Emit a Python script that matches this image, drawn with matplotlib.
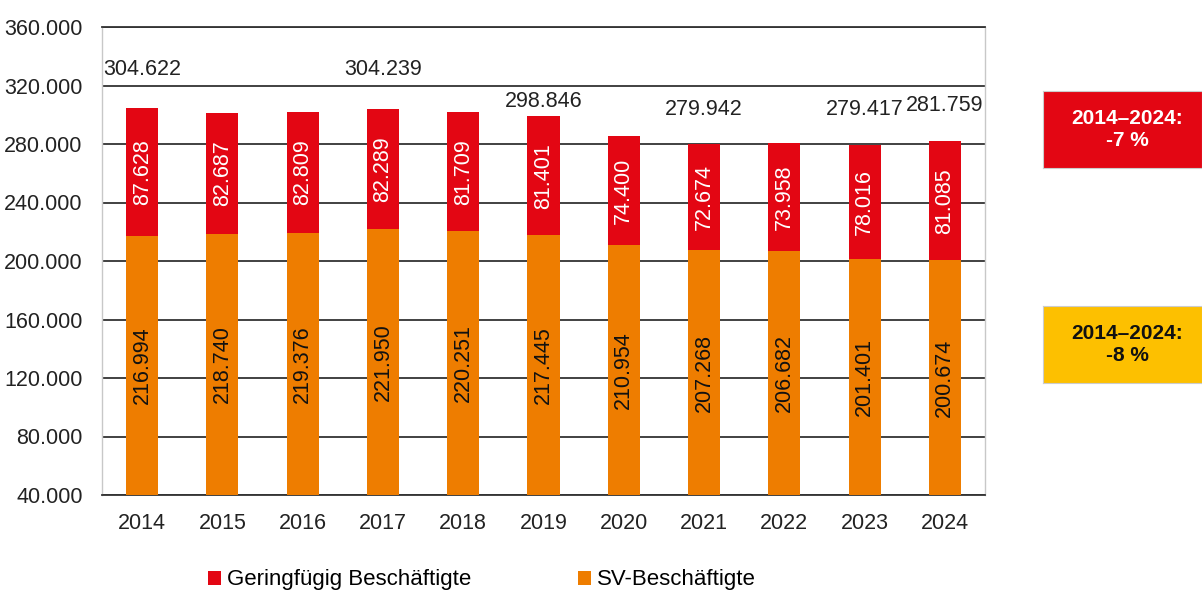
import matplotlib
matplotlib.use("Agg")
import matplotlib.pyplot as plt
from matplotlib.patches import Patch

years = ["2014", "2015", "2016", "2017", "2018", "2019", "2020", "2021", "2022", "2023", "2024"]
sv_beschaeftigte = [216994, 218740, 219376, 221950, 220251, 217445, 210954, 207268, 206682, 201401, 200674]
geringfuegig = [87628, 82687, 82809, 82289, 81709, 81401, 74400, 72674, 73958, 78016, 81085]
total_label_years = ["2014", "2017", "2019", "2021", "2023", "2024"]
y_ticks = [40000, 80000, 120000, 160000, 200000, 240000, 280000, 320000, 360000]
box_texts = ["2014\u20132024:\n-7 %", "2014\u20132024:\n-8 %"]

# layout-only: heights at which the total labels are printed
total_label_pos = {"2014": 330600, "2017": 330600, "2019": 309400,
                   "2021": 303900, "2023": 303900, "2024": 306000}

RED = "#E30613"
ORANGE = "#EE7D00"
YELLOW = "#FDC000"
FONT = ["Liberation Sans Narrow", "Liberation Sans", "DejaVu Sans"]
plt.rcParams["font.family"] = FONT

def fmt(v):
    return f"{v:,}".replace(",", ".")

fig = plt.figure(figsize=(12.02, 5.95), dpi=100)
ax = fig.add_axes([102 / 1202, 1 - 495 / 595, (985 - 102) / 1202, (495 - 27) / 595])

x = list(range(len(years)))
ymin, ymax = 40000, 360000
ax.bar(x, sv_beschaeftigte, width=0.4, color=ORANGE, zorder=3)
ax.bar(x, geringfuegig, width=0.4, bottom=sv_beschaeftigte, color=RED, zorder=3)

ax.set_ylim(ymin, ymax)
ax.set_xlim(-0.5, 10.5)
ax.set_yticks(y_ticks)
ax.set_yticklabels([fmt(v) for v in y_ticks], fontsize=15.5, color="#222222")
ax.set_xticks(x)
ax.set_xticklabels(years, fontsize=15.5, color="#222222")
ax.tick_params(axis="both", length=0)
ax.tick_params(axis="y", pad=14)
ax.tick_params(axis="x", pad=13)

ax.yaxis.grid(True, color="#333333", linewidth=1.3, zorder=1)
ax.set_axisbelow(True)
for s in ["left", "right"]:
    ax.spines[s].set_color("#c8c8c8")
    ax.spines[s].set_linewidth(1.0)
for s in ["top", "bottom"]:
    ax.spines[s].set_color("#333333")
    ax.spines[s].set_linewidth(1.3)

for i, (sv, gf) in enumerate(zip(sv_beschaeftigte, geringfuegig)):
    lo = max(0, ymin)
    ax.text(i, (lo + sv) / 2, fmt(sv), rotation=90, ha="center", va="center",
            fontsize=15.5, color="#111111", zorder=4)
    ax.text(i, sv + gf / 2, fmt(gf), rotation=90, ha="center", va="center",
            fontsize=15.5, color="white", zorder=4)
    if years[i] in total_label_years:
        ax.text(i, total_label_pos[years[i]], fmt(sv + gf), ha="center", va="center",
                fontsize=15.5, color="#222222", zorder=4)

# summary boxes
for (ytop, ybot, fc, tc, txt) in [(91, 168, RED, "white", box_texts[0]),
                                  (306, 383, YELLOW, "#111111", box_texts[1])]:
    bx = fig.add_axes([1043 / 1202, 1 - ybot / 595, (1202 - 1043) / 1202, (ybot - ytop) / 595])
    bx.set_xlim(0, 1); bx.set_ylim(0, 1)
    bx.set_facecolor(fc)
    bx.set_xticks([]); bx.set_yticks([])
    for s in bx.spines.values():
        s.set_color("#cccccc")
    bx.text(0.53, 0.5, txt, ha="center", va="center", fontsize=15, fontweight="bold",
            color=tc, linespacing=1.2, family=["Liberation Sans Narrow", "Liberation Sans"])

handles = [Patch(facecolor=RED, label="Geringfügig Beschäftigte"),
           Patch(facecolor=ORANGE, label="SV-Beschäftigte")]
fig.legend(handles=handles, loc="center", bbox_to_anchor=(482 / 1202, 1 - 580 / 595),
           ncol=2, frameon=False, fontsize=16, handlelength=0.6, handleheight=0.6,
           handletextpad=0.27, columnspacing=4.8, borderpad=0, borderaxespad=0)

fig.savefig("out.png", dpi=100)
